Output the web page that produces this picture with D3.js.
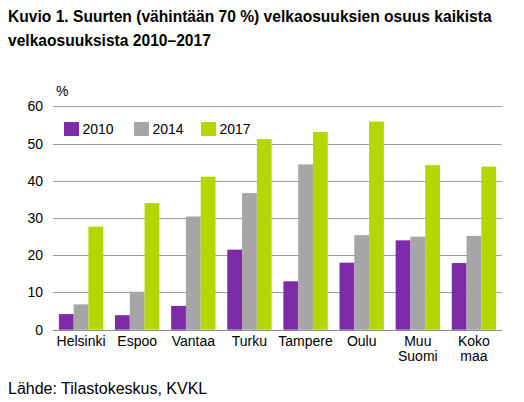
<!DOCTYPE html>
<html><head><meta charset="utf-8">
<script src="https://cdn.jsdelivr.net/npm/d3@7"></script>
<style>body{margin:0;background:#fff}svg{display:block;font-family:"Liberation Sans",Arial,sans-serif}</style>
</head><body><svg id="c" width="524" height="402"></svg>
<script>
const categories = [["Helsinki"],["Espoo"],["Vantaa"],["Turku"],["Tampere"],["Oulu"],["Muu","Suomi"],["Koko","maa"]];
const seriesNames = ["2010","2014","2017"];
const v2010 = [4.2, 3.9, 6.4, 21.5, 13.0, 18.0, 24.0, 17.9];
const v2014 = [6.8, 10.2, 30.4, 36.7, 44.4, 25.4, 25.0, 25.2];
const v2017 = [27.7, 34.0, 41.1, 51.2, 53.1, 55.9, 44.2, 43.8];
const yTicks = [0,10,20,30,40,50,60];
const colors = ["#7d2ba9","#a6a6a6","#b5d600"];
const series = [v2010, v2014, v2017];

const svg = d3.select("#c");
const m = {l:53, r:502, t:106.3, b:329.7};
const x0 = d3.scaleBand().domain(d3.range(categories.length)).range([m.l, m.r]).paddingInner(0.21).paddingOuter(0.105);
const x1 = d3.scaleBand().domain(d3.range(seriesNames.length)).range([0, x0.bandwidth()]);
const y = d3.scaleLinear().domain([0,60]).range([m.b, m.t]);

// title
const title = svg.append("text").attr("font-weight","bold").attr("font-size",15.6).attr("fill","#000");
title.append("tspan").attr("x",8).attr("y",22).text("Kuvio 1. Suurten (vähintään 70 %) velkaosuuksien osuus kaikista");
title.append("tspan").attr("x",8).attr("y",46).text("velkaosuuksista 2010–2017");

// grid
svg.append("g").selectAll("line").data(yTicks).join("line")
  .attr("x1",m.l).attr("x2",m.r).attr("y1",d=>Math.round(y(d))+0.5).attr("y2",d=>Math.round(y(d))+0.5)
  .attr("stroke",d=>d===0?"#8c8c8c":"#9f9f9f").attr("stroke-width",1);

// y labels
svg.append("g").selectAll("text").data(yTicks).join("text")
  .attr("x",43).attr("y",d=>y(d)+5).attr("text-anchor","end").attr("font-size",14).attr("fill","#000").text(d=>d);
svg.append("text").attr("x",56).attr("y",96).attr("font-size",14).text("%");

// bars
const g = svg.append("g");
series.forEach((s,si)=>{
  g.selectAll(null).data(s).join("rect")
    .attr("x",(d,i)=>x0(i)+x1(si)).attr("width",x1.bandwidth())
    .attr("y",d=>y(d)).attr("height",d=>y(0)-y(d)).attr("fill",colors[si]);
});

// x labels
const xl = svg.append("g").selectAll("text").data(categories).join("text")
  .attr("text-anchor","middle").attr("font-size",14).attr("fill","#000");
xl.each(function(lines,i){
  const t = d3.select(this);
  lines.forEach((ln,j)=>t.append("tspan").attr("x",x0(i)+x0.bandwidth()/2).attr("y",346+j*15).text(ln));
});

// legend
const legX = [64, 134, 201];
const lg = svg.append("g").selectAll("g").data(seriesNames).join("g");
lg.append("rect").attr("x",(d,i)=>legX[i]).attr("y",122).attr("width",15).attr("height",14).attr("fill",(d,i)=>colors[i]);
lg.append("text").attr("x",(d,i)=>legX[i]+18.5).attr("y",134).attr("font-size",14).text(d=>d);

// source
svg.append("text").attr("x",8).attr("y",394).attr("font-size",16).attr("fill","#000").text("Lähde: Tilastokeskus, KVKL");
</script></body></html>
